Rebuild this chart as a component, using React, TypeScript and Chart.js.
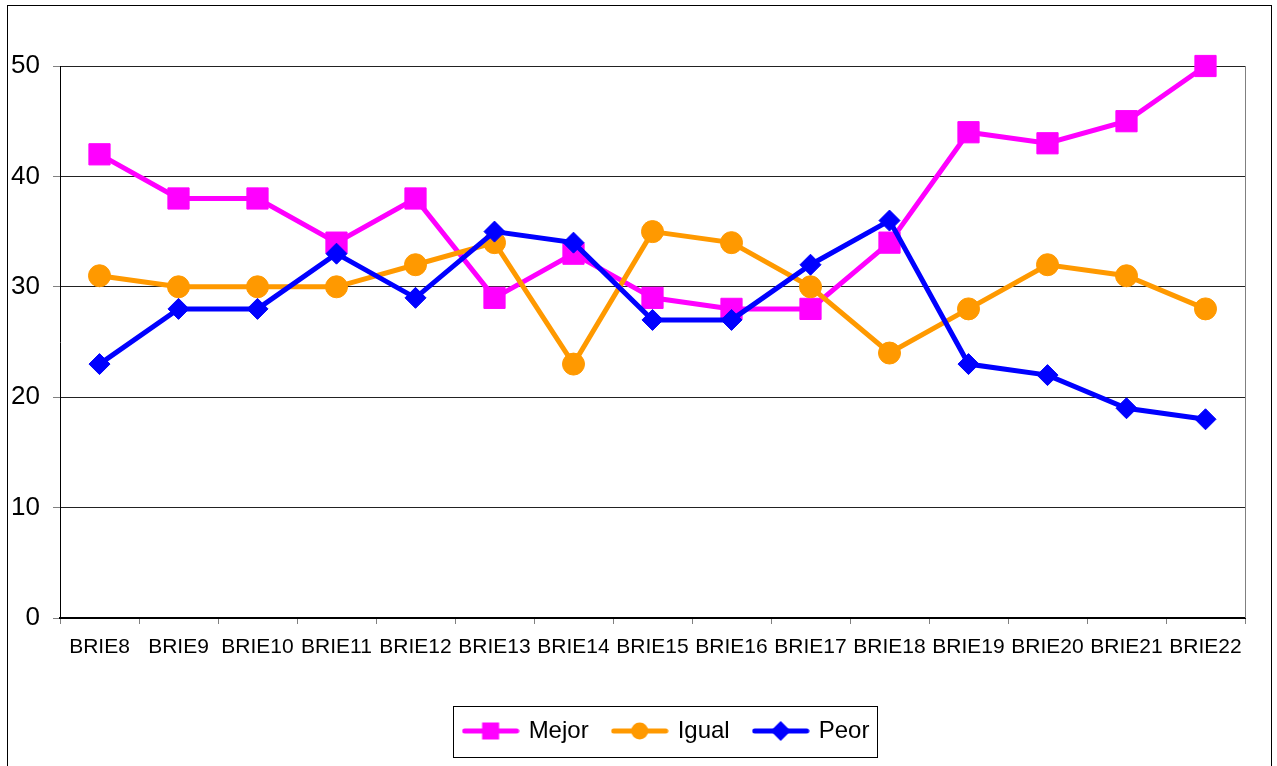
import React, { useEffect, useRef } from 'react';
import { Chart, registerables } from 'chart.js';

Chart.register(...registerables);

const categories = [
  'BRIE8', 'BRIE9', 'BRIE10', 'BRIE11', 'BRIE12', 'BRIE13', 'BRIE14', 'BRIE15',
  'BRIE16', 'BRIE17', 'BRIE18', 'BRIE19', 'BRIE20', 'BRIE21', 'BRIE22',
];
const mejor = [42, 38, 38, 34, 38, 29, 33, 29, 28, 28, 34, 44, 43, 45, 50];
const igual = [31, 30, 30, 30, 32, 34, 23, 35, 34, 30, 24, 28, 32, 31, 28];
const peor = [23, 28, 28, 33, 29, 35, 34, 27, 27, 32, 36, 23, 22, 19, 18];
const seriesNames = ['Mejor', 'Igual', 'Peor'];
const seriesColors = ['#FF00FF', '#FF9900', '#0000FF'];

const FONT = "'Liberation Sans', Arial, Helvetica, sans-serif";

function makeIcon(color: string, style: string): HTMLCanvasElement {
  const c = document.createElement('canvas');
  c.width = 58;
  c.height = 24;
  const g = c.getContext('2d')!;
  g.strokeStyle = color;
  g.fillStyle = color;
  g.lineWidth = 5;
  g.lineCap = 'round';
  g.beginPath();
  g.moveTo(3, 12);
  g.lineTo(55, 12);
  g.stroke();
  const cx = 29;
  const cy = 12;
  g.beginPath();
  if (style === 'rect') {
    g.rect(cx - 8.5, cy - 8.5, 17, 17);
  } else if (style === 'circle') {
    g.arc(cx, cy, 8.5, 0, Math.PI * 2);
  } else {
    g.moveTo(cx - 10, cy);
    g.lineTo(cx, cy - 10);
    g.lineTo(cx + 10, cy);
    g.lineTo(cx, cy + 10);
    g.closePath();
  }
  g.fill();
  return c;
}

const framePlugin = {
  id: 'frame',
  beforeDraw(chart: any) {
    const ctx = chart.ctx;
    ctx.save();
    ctx.fillStyle = '#ffffff';
    ctx.fillRect(0, 0, chart.width, chart.height);
    ctx.strokeStyle = '#000000';
    ctx.lineWidth = 1;
    ctx.strokeRect(7.5, 5.5, 1264, 820);
    ctx.restore();
  },
  beforeDatasetsDraw(chart: any) {
    const { ctx, chartArea } = chart;
    ctx.save();
    ctx.strokeStyle = '#808080';
    ctx.lineWidth = 1;
    const x = Math.round(chartArea.right) + 0.5;
    ctx.beginPath();
    ctx.moveTo(x, chartArea.top);
    ctx.lineTo(x, chartArea.bottom);
    ctx.stroke();
    ctx.restore();
  },
};

const legendPlugin = {
  id: 'legendPlace',
  afterLayout(chart: any) {
    const lg = chart.legend;
    if (!lg) return;
    const desiredCenter = 667;
    const shift = desiredCenter - (lg.left + lg.right) / 2;
    lg.left += shift;
    lg.right += shift;
    const h = lg.height;
    lg.top = 694;
    lg.bottom = lg.top + h;
  },
  afterDraw(chart: any) {
    const lg = chart.legend;
    if (!lg || !lg.legendHitBoxes || !lg.legendHitBoxes.length) return;
    const hb = lg.legendHitBoxes;
    const first = hb[0];
    const last = hb[hb.length - 1];
    const ctx = chart.ctx;
    const left = Math.round(first.left - 12) + 0.5;
    const right = Math.round(last.left + last.width + 8) + 0.5;
    const top = Math.round(first.top - 13) + 0.5;
    const bottom = Math.round(first.top + first.height + 14) + 0.5;
    ctx.save();
    ctx.strokeStyle = '#000000';
    ctx.lineWidth = 1;
    ctx.strokeRect(left, top, right - left, bottom - top);
    ctx.restore();
  },
};

export default function App() {
  const ref = useRef<HTMLCanvasElement | null>(null);

  useEffect(() => {
    if (!ref.current) return;
    const icons = [
      makeIcon(seriesColors[0], 'rect'),
      makeIcon(seriesColors[1], 'circle'),
      makeIcon(seriesColors[2], 'rectRot'),
    ];
    const chart = new Chart(ref.current, {
      type: 'line',
      data: {
        labels: categories,
        datasets: [
          {
            label: seriesNames[0],
            data: mejor,
            borderColor: seriesColors[0],
            backgroundColor: seriesColors[0],
            borderWidth: 5,
            pointStyle: 'rect',
            pointRadius: 15,
            pointHoverRadius: 15,
            pointBorderWidth: 1,
            order: 3,
            clip: false as any,
            tension: 0,
          },
          {
            label: seriesNames[1],
            data: igual,
            borderColor: seriesColors[1],
            backgroundColor: seriesColors[1],
            borderWidth: 5,
            pointStyle: 'circle',
            pointRadius: 11,
            pointHoverRadius: 11,
            pointBorderWidth: 1,
            order: 2,
            clip: false as any,
            tension: 0,
          },
          {
            label: seriesNames[2],
            data: peor,
            borderColor: seriesColors[2],
            backgroundColor: seriesColors[2],
            borderWidth: 5,
            pointStyle: 'rectRot',
            pointRadius: 10.5,
            pointHoverRadius: 10.5,
            pointBorderWidth: 1,
            order: 1,
            clip: false as any,
            tension: 0,
          },
        ],
      },
      options: {
        animation: false,
        responsive: true,
        maintainAspectRatio: false,
        devicePixelRatio: 1,
        events: [],
        layout: { padding: { top: 66, right: 32, left: 0, bottom: 0 } },
        plugins: {
          title: { display: false },
          tooltip: { enabled: false },
          legend: {
            display: true,
            position: 'bottom',
            align: 'center',
            labels: {
              usePointStyle: true,
              pointStyleWidth: 52,
              padding: 25,
              color: '#000000',
              font: { size: 24, family: FONT },
              sort: (a: any, b: any) => a.datasetIndex - b.datasetIndex,
              generateLabels: (ch: any) =>
                ch.data.datasets.map((ds: any, i: number) => ({
                  text: ds.label,
                  datasetIndex: i,
                  pointStyle: icons[i],
                  fillStyle: seriesColors[i],
                  strokeStyle: seriesColors[i],
                  lineWidth: 0,
                  hidden: false,
                  fontColor: '#000000',
                })),
            },
          },
        },
        scales: {
          x: {
            type: 'category',
            offset: true,
            grid: {
              offset: true,
              drawOnChartArea: false,
              drawTicks: true,
              tickLength: 6,
              tickColor: '#808080',
              tickWidth: 1,
            },
            border: { color: '#000000', width: 2 },
            ticks: {
              color: '#000000',
              font: { size: 21, family: FONT },
              padding: 11,
              maxRotation: 0,
              minRotation: 0,
              autoSkip: false,
            },
            afterFit: (s: any) => {
              s.height = 89;
            },
          },
          y: {
            min: 0,
            max: 50,
            grid: {
              color: '#222222',
              lineWidth: 1,
              tickLength: 7,
              tickColor: '#808080',
            },
            border: { color: '#000000', width: 1 },
            ticks: {
              stepSize: 10,
              color: '#000000',
              font: { size: 26, family: FONT },
              padding: 13,
            },
            afterFit: (s: any) => {
              s.width = 60;
            },
          },
        },
      },
      plugins: [framePlugin, legendPlugin],
    });
    return () => {
      chart.destroy();
    };
  }, []);

  return (
    <div style={{ position: 'fixed', left: 0, top: 0, width: 1277, height: 766, background: '#fff' }}>
      <canvas ref={ref} />
    </div>
  );
}
